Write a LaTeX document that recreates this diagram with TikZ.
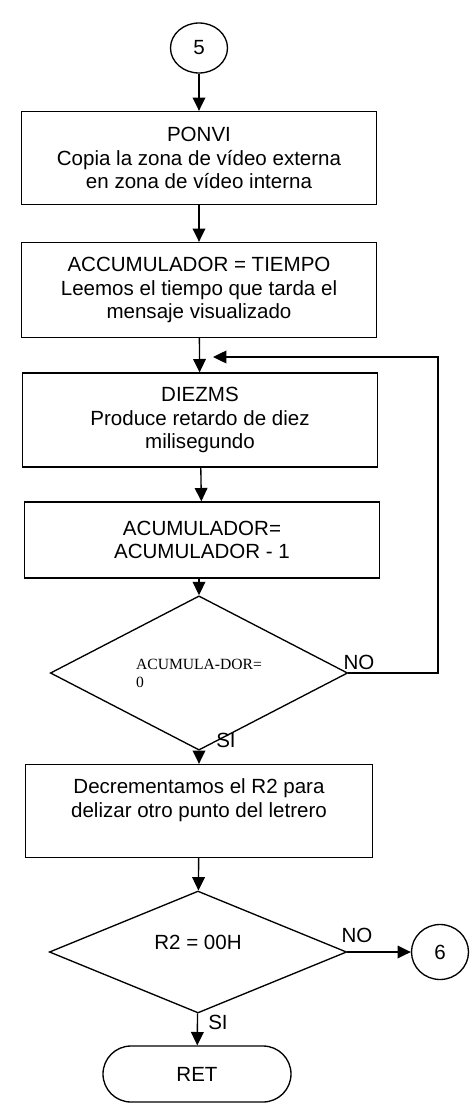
\documentclass[tikz,border=0pt]{standalone}
\usepackage{fontspec}
\setmainfont{Liberation Sans}
\newfontfamily\timesdor{Liberation Serif}
\usepackage{tikz}
\usetikzlibrary{shapes.geometric,arrows.meta}

\begin{document}
\begin{tikzpicture}[x=0.75pt,y=-0.75pt,line width=1pt,
    every node/.style = {font=\fontsize{15.4}{17.8}\selectfont},
    box/.style = {draw, rectangle, align=center, minimum width=266pt},
    conn/.style = {draw, ellipse, minimum width=42.75pt, inner sep=0pt},
    decision/.style = {draw, diamond, minimum width=223pt, minimum height=84pt, inner sep=0pt},
    term/.style = {draw, rectangle, rounded corners=21pt, minimum width=141pt, minimum height=42pt},
    flow/.style = {-{Triangle[length=10pt,width=9.5pt]}}]
	\useasboundingbox (0,0) rectangle (469,1113);
	\node[conn, minimum height=37.5pt] (c5) at (199,48) {5};
	\node[box, minimum height=69.75pt] (b1) at (199,158) {PONVI\\Copia la zona de vídeo externa\\en zona de vídeo interna};
	\node[box, minimum height=71.25pt] (b2) at (199,290) {ACCUMULADOR = TIEMPO\\Leemos el tiempo que tarda el\\mensaje visualizado};
	\node[box, minimum height=70.5pt] (b3) at (200,420) {DIEZMS\\Produce retardo de diez\\milisegundo};
	\node[box, minimum height=57pt] (b4) at (202,540) {ACUMULADOR=\\ACUMULADOR - 1};
	\node[decision, align=left, font=\timesdor\fontsize{11.7}{13.5}\selectfont] (d1) at (199,673) {ACUMULA-DOR=\\0};
	\node[box, minimum width=260pt, minimum height=69.75pt] (b5) at (199,811) {Decrementamos el R2 para\\delizar otro punto del letrero\\[2pt]};
	\node[decision, text height=11pt, text depth=15pt] (d2) at (198,952) {R2 = 00H};
	\node[conn, minimum height=41.25pt] (c6) at (440,952) {6};
	\node[term] (ret) at (197,1074) {RET};
	\coordinate (loopend) at (213,357);
	\coordinate (loopup) at (438,357);
	\node (no1) at (359,662) {NO};
	\node (si1) at (226,740) {SI};
	\node (no2) at (357,935) {NO};
	\node (si2) at (218,1022) {SI};
	\draw[flow] (c5) -- (b1);
	\draw[flow] (b1) -- (b2);
	\draw[flow] (b2) -- (b3);
	\draw[flow] (b3) -- (b4);
	\draw[flow] (b4.south -| d1.north) -- (d1.north);
	\draw[flow] (d1) -- (b5);
	\draw[flow] (d1.east) -| (loopup) -- (loopend);
	\draw[flow] (b5) -- (d2);
	\draw[flow] (d2) -- (ret);
	\draw[flow] (d2.east) -- (c6);
\end{tikzpicture}
\end{document}
